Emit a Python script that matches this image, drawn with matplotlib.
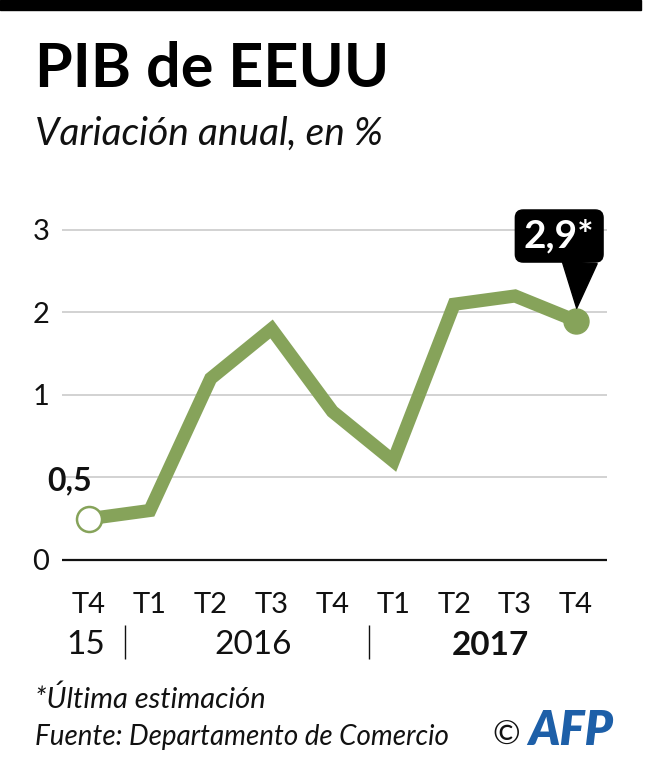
import matplotlib.pyplot as plt
from matplotlib.patches import Rectangle
from matplotlib.transforms import blended_transform_factory

plt.rcParams['font.family'] = ['Lato', 'DejaVu Sans']

# data (annual GDP change, %)
quarters = ['T4', 'T1', 'T2', 'T3', 'T4', 'T1', 'T2', 'T3', 'T4']
gdp = [0.5, 0.6, 2.2, 2.8, 1.8, 1.2, 3.1, 3.2, 2.9]
ytick_vals = [0, 1, 2, 3, 4]
ytick_labels = ['0', '', '1', '2', '3']   # as printed on the original graphic
years = ['15', '2016', '2017']
year_pos = [-0.05, 2.7, 6.6]
year_sep = [0.6, 4.6]

green = '#86a35a'

fig = plt.figure(figsize=(6.51, 7.68), dpi=100)
ax = fig.add_axes([0.0952, 0.244, 0.837, 0.4995])

x = list(range(len(gdp)))
ax.plot(x, gdp, color=green, lw=9.5, solid_joinstyle='miter', zorder=3)
ax.plot(x[0], gdp[0], 'o', ms=18, mfc='white', mec=green, mew=1.8, zorder=4)
ax.plot(x[-1], gdp[-1], 'o', ms=18, mfc=green, mec=green, zorder=4)

ax.set_xlim(-0.4435, 8.509)
ax.set_ylim(-0.25, 4.4)
ax.set_yticks(ytick_vals)
ax.set_yticklabels(ytick_labels)
ax.set_xticks(x)
ax.set_xticklabels(quarters)
ax.tick_params(axis='both', length=0, labelsize=21, colors='#111111')
ax.tick_params(axis='y', pad=9)
ax.tick_params(axis='x', pad=8)
for sp in ax.spines.values():
    sp.set_visible(False)
ax.grid(axis='y', color='#cfcfcf', lw=1.3)
ax.set_axisbelow(True)
ax.axhline(0, color='#111111', lw=1.6, zorder=2)

# labels on the first and last point
ax.annotate('0,5', xy=(x[0], gdp[0]), xytext=(-14, 27), textcoords='offset points',
            ha='center', va='center', fontsize=23, fontweight='bold', color='#111111')
ax.annotate('2,9*', xy=(x[-1], gdp[-1]), xytext=(-12, 61), textcoords='offset points',
            ha='center', va='center', fontsize=28, fontweight='bold', color='white',
            bbox=dict(boxstyle='round,pad=0.22,rounding_size=0.2', fc='black', ec='black'),
            arrowprops=dict(arrowstyle='wedge,tail_width=0.9', fc='black', ec='black',
                            relpos=(0.8, 0.05), shrinkA=0, shrinkB=9),
            annotation_clip=False, zorder=5)

# years row
tr = blended_transform_factory(ax.transData, fig.transFigure)
for lab, p in zip(years, year_pos):
    ax.text(p, 0.160, lab, transform=tr, ha='center', va='center', fontsize=24,
            color='#111111', fontweight='bold' if lab == '2017' else 'normal')
ax.vlines(year_sep, 0.142, 0.186, transform=tr, color='#111111', lw=1, clip_on=False)

# header / footer
fig.patches.append(Rectangle((0, 0.987), 0.985, 0.013, transform=fig.transFigure,
                             color='black'))
fig.text(0.054, 0.887, 'PIB de EEUU', fontsize=44, fontweight='bold', va='baseline')
fig.text(0.054, 0.812, 'Variación anual, en %', fontsize=28, style='italic',
         va='baseline', color='#111111')
fig.text(0.054, 0.078, '*Última estimación', fontsize=21, style='italic',
         va='baseline', color='#111111')
fig.text(0.054, 0.030, 'Fuente: Departamento de Comercio', fontsize=20, style='italic',
         va='baseline', color='#111111')
fig.text(0.757, 0.030, '©', fontsize=24, va='baseline', color='#111111')
fig.text(0.812, 0.030, 'AFP', fontsize=34, fontweight='heavy', style='italic',
         va='baseline', color='#1d5fa8')

fig.savefig('out.png', dpi=100)
